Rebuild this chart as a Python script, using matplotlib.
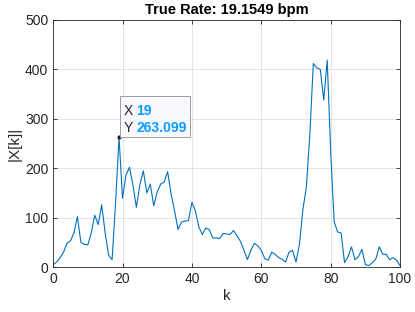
import numpy as np
import matplotlib
matplotlib.use('Agg')
import matplotlib.pyplot as plt
from matplotlib.patches import Rectangle

plt.rcParams['font.family'] = ['Liberation Sans', 'DejaVu Sans']

# Spectrum magnitude |X[k]| for k = 0..100
k = np.arange(0, 101)
mag = [5, 10, 19, 30, 48, 53, 69, 102, 50, 46,
       45, 69, 105, 86, 126, 69, 24, 15, 130, 263.099,
       139, 186, 202, 166, 121, 166, 195, 150, 168, 124,
       152, 168, 172, 193, 148, 114, 76, 91, 93, 94,
       131, 114, 81, 66, 79, 76, 59, 59, 58, 68,
       67, 66, 74, 63, 52, 34, 15, 34, 48, 43,
       34, 17, 14, 30, 26, 19, 16, 10, 30, 34,
       10, 46, 117, 162, 269, 412, 403, 400, 338, 419,
       234, 92, 71, 69, 9, 21, 41, 15, 21, 36,
       5, 3, 9, 16, 41, 26, 26, 15, 19, 14,
       3]
tip_k = 19
tip_val = 263.099
true_rate = 19.1549

fig = plt.figure(figsize=(4.15, 3.12), dpi=100)
ax = fig.add_axes([0.128, 0.144, 0.836, 0.792])

ax.plot(k, mag, color='#0072BD', linewidth=0.8)
ax.plot([tip_k], [tip_val], 'o', color='#222222', markersize=2, zorder=5)

ax.set_xlim(0, 100)
ax.set_ylim(0, 500)
ax.set_xticks([0, 20, 40, 60, 80, 100])
ax.set_yticks([0, 100, 200, 300, 400, 500])
ax.grid(True, color='#dfdfdf', linewidth=0.6)
ax.set_axisbelow(True)
ax.tick_params(direction='in', length=3, width=0.6, labelsize=10, colors='#262626',
               top=True, right=True)
for s in ax.spines.values():
    s.set_color('#262626')
    s.set_linewidth(0.6)

ax.set_title('True Rate: %.4f bpm' % true_rate, fontsize=10.5, fontweight='bold', pad=4)
ax.set_xlabel('k', fontsize=11, color='#262626', labelpad=2)
ax.set_ylabel('|X[k]|', fontsize=11, color='#262626', labelpad=2)

# datatip box
box = Rectangle((19.3, 264), 20.2, 82, facecolor='#f8f8ff', edgecolor='#a0a0a0',
                linewidth=0.7, zorder=6)
ax.add_patch(box)
ax.text(20.3, 316, 'X', fontsize=10, color='#262626', va='center', ha='left', zorder=7)
ax.text(24.0, 316, str(tip_k), fontsize=10, color='#0a9cff', fontweight='bold',
        va='center', ha='left', zorder=7)
ax.text(20.3, 281, 'Y', fontsize=10, color='#262626', va='center', ha='left', zorder=7)
ax.text(24.0, 281, '%.3f' % tip_val, fontsize=10, color='#0a9cff', fontweight='bold',
        va='center', ha='left', zorder=7)

plt.savefig('out.png', dpi=100)
